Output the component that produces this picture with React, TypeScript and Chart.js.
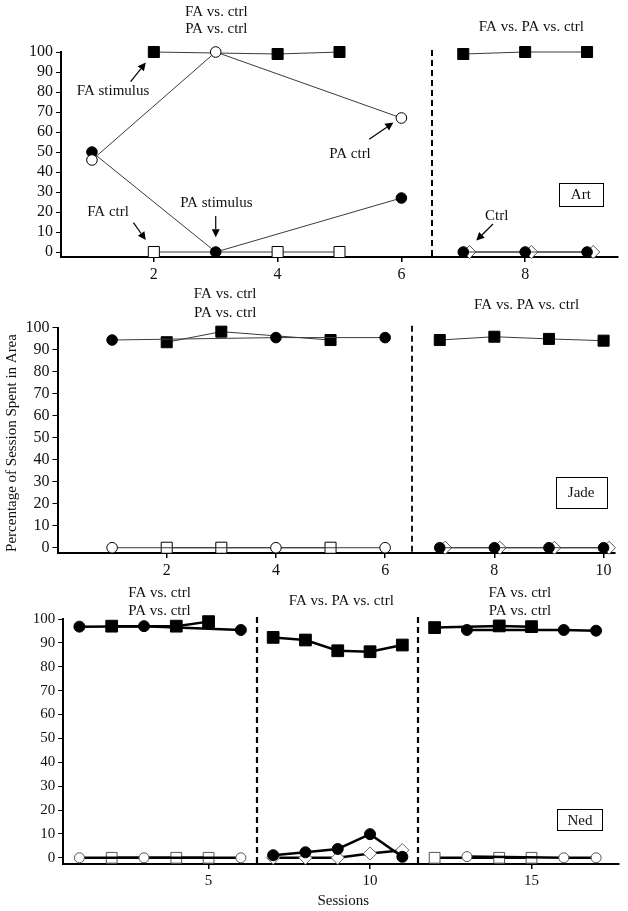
import React, { useEffect, useRef } from 'react';
import { Chart, registerables } from 'chart.js';
Chart.register(...registerables);

const FONT = '"Liberation Serif", "Times New Roman", serif';

// ---------- Art ----------
const artFaSessions = [2, 4, 5];
const artFaStimulus = [100, 99, 100];
const artFaCtrl = [0, 0, 0];
const artPaSessions = [1, 3, 6];
const artPaStimulus = [50, 0, 27];
const artPaCtrl = [46, 100, 67];
const artMixSessions = [7, 8, 9];
const artMixFa = [99, 100, 100];
const artMixPa = [0, 0, 0];
const artMixCtrlSessions = [7.1, 8.1, 9.1];
const artMixCtrl = [0, 0, 0];
const artXTicks = [2, 4, 6, 8];

// ---------- Jade ----------
const jadePaSessions = [1, 4, 6];
const jadePaStimulus = [94.4, 95.5, 95.5];
const jadePaCtrl = [0, 0, 0];
const jadeFaSessions = [2, 3, 5];
const jadeFaStimulus = [93.4, 98.2, 94.4];
const jadeFaCtrl = [0, 0, 0];
const jadeMixSessions = [7, 8, 9, 10];
const jadeMixFa = [94.4, 95.9, 94.9, 94.1];
const jadeMixPa = [0, 0, 0, 0];
const jadeMixCtrlSessions = [7.1, 8.1, 9.1, 10.1];
const jadeMixCtrl = [0, 0, 0, 0];
const jadeXTicks = [2, 4, 6, 8, 10];

// ---------- Ned ----------
const nedPaSessions1 = [1, 3, 6];
const nedPaStimulus1 = [96.8, 97, 95.4];
const nedPaCtrl1 = [0, 0, 0];
const nedFaSessions1 = [2, 4, 5];
const nedFaStimulus1 = [97, 97, 98.9];
const nedFaCtrl1 = [0, 0, 0];
const nedMixSessions = [7, 8, 9, 10, 11];
const nedMixFa = [92.3, 91.2, 86.7, 86.3, 89.1];
const nedMixPa = [1.1, 2.3, 3.7, 9.9, 0.4];
const nedMixCtrl = [0, 0, 0, 1.8, 3.2];
const nedFaSessions3 = [12, 14, 15];
const nedFaStimulus3 = [96.4, 97.1, 96.8];
const nedFaCtrl3 = [0, 0, 0];
const nedPaSessions3 = [13, 16, 17];
const nedPaStimulus3 = [95.4, 95.4, 95.1];
const nedPaCtrl3 = [0.5, 0, 0];
const nedXTicks = [5, 10, 15];

const yTicks = [0, 10, 20, 30, 40, 50, 60, 70, 80, 90, 100];

type Style = {
  shape: 'rect' | 'circle' | 'rectRot';
  filled: boolean;
  r: number;
  lw: number;
  lineColor: string;
  pointBorder?: string;
};

function ds(xs: number[], ys: number[], s: Style) {
  return {
    data: xs.map((x, i) => ({ x, y: ys[i] })),
    borderColor: s.lineColor,
    borderWidth: s.lw,
    pointStyle: s.shape,
    pointRadius: s.r,
    pointBackgroundColor: s.filled ? '#000' : '#fff',
    pointBorderColor: s.pointBorder || '#000',
    pointBorderWidth: 1,
    tension: 0,
    fill: false,
    clip: false as any,
  };
}

type Annot = {
  texts: { t: string; x: number; y: number }[];
  arrows: { x1: number; y1: number; x2: number; y2: number }[];
  boxes: { t: string; x: number; y: number; w: number; h: number }[];
  dashes: number[];
  dashWidth: number;
  vtitle?: { t: string; x: number; y: number };
};

function makePlugin(a: Annot) {
  return {
    id: 'annot',
    beforeDatasetsDraw(chart: any) {
      const ctx = chart.ctx;
      const xs = chart.scales.x;
      const area = chart.chartArea;
      ctx.save();
      ctx.strokeStyle = '#000';
      ctx.lineWidth = a.dashWidth;
      ctx.setLineDash([6, 4]);
      a.dashes.forEach((d) => {
        const px = Math.round(xs.getPixelForValue(d));
        ctx.beginPath();
        ctx.moveTo(px, area.top - 2);
        ctx.lineTo(px, area.bottom);
        ctx.stroke();
      });
      ctx.restore();
    },
    afterDraw(chart: any) {
      const ctx = chart.ctx;
      const xs = chart.scales.x;
      const ys = chart.scales.y;
      const px = (v: number) => xs.getPixelForValue(v);
      const py = (v: number) => ys.getPixelForValue(v);
      ctx.save();
      ctx.font = `15px ${FONT}`;
      ctx.fillStyle = '#111';
      ctx.textAlign = 'center';
      ctx.textBaseline = 'middle';
      a.texts.forEach((t) => ctx.fillText(t.t, px(t.x), py(t.y)));
      a.arrows.forEach((ar) => {
        const x1 = px(ar.x1), y1 = py(ar.y1), x2 = px(ar.x2), y2 = py(ar.y2);
        const ang = Math.atan2(y2 - y1, x2 - x1);
        const L = 8, W = 4;
        const bx = x2 - L * Math.cos(ang), by = y2 - L * Math.sin(ang);
        ctx.strokeStyle = '#000';
        ctx.lineWidth = 1.2;
        ctx.beginPath();
        ctx.moveTo(x1, y1);
        ctx.lineTo(bx, by);
        ctx.stroke();
        ctx.fillStyle = '#000';
        ctx.beginPath();
        ctx.moveTo(x2, y2);
        ctx.lineTo(bx + W * Math.sin(ang), by - W * Math.cos(ang));
        ctx.lineTo(bx - W * Math.sin(ang), by + W * Math.cos(ang));
        ctx.closePath();
        ctx.fill();
      });
      a.boxes.forEach((b) => {
        const cx = px(b.x), cy = py(b.y);
        ctx.fillStyle = '#fff';
        ctx.fillRect(cx - b.w / 2, cy - b.h / 2, b.w, b.h);
        ctx.strokeStyle = '#000';
        ctx.lineWidth = 1;
        ctx.strokeRect(Math.round(cx - b.w / 2) + 0.5, Math.round(cy - b.h / 2) + 0.5, b.w, b.h);
        ctx.fillStyle = '#111';
        ctx.fillText(b.t, cx, cy + 1);
      });
      if (a.vtitle) {
        ctx.save();
        ctx.translate(px(a.vtitle.x), py(a.vtitle.y));
        ctx.rotate(-Math.PI / 2);
        ctx.fillStyle = '#111';
        ctx.fillText(a.vtitle.t, 0, 0);
        ctx.restore();
      }
      ctx.restore();
    },
  };
}

type Panel = {
  top: number;
  height: number;
  area: { left: number; right: number; top: number; bottom: number };
  xmin: number;
  xmax: number;
  ymin: number;
  xTicks: number[];
  tickSize: number;
  datasets: any[];
  annot: Annot;
};

function makeConfig(p: Panel) {
  const tickFont = { family: FONT, size: p.tickSize };
  return {
    type: 'line' as const,
    data: { datasets: p.datasets },
    options: {
      responsive: false,
      animation: false,
      devicePixelRatio: 1,
      layout: { padding: { left: 0, bottom: 0, top: p.area.top, right: 628 - p.area.right } },
      plugins: { legend: { display: false }, tooltip: { enabled: false } },
      scales: {
        x: {
          type: 'linear',
          min: p.xmin,
          max: p.xmax,
          afterFit: (s: any) => { s.height = p.height - p.area.bottom; },
          afterBuildTicks: (s: any) => { s.ticks = p.xTicks.map((v) => ({ value: v })); },
          grid: { drawOnChartArea: false, drawTicks: true, tickLength: 5, color: '#000', lineWidth: 1.5 },
          border: { color: '#000', width: 2 },
          ticks: { font: tickFont, color: '#111', padding: 3, maxRotation: 0, autoSkip: false },
        },
        y: {
          type: 'linear',
          min: p.ymin,
          max: 100,
          afterFit: (s: any) => { s.width = p.area.left; },
          afterBuildTicks: (s: any) => { s.ticks = yTicks.map((v) => ({ value: v })); },
          grid: { drawOnChartArea: false, drawTicks: true, tickLength: 5, color: '#000', lineWidth: 1 },
          border: { color: '#000', width: 2 },
          ticks: { font: tickFont, color: '#111', padding: 3, autoSkip: false },
        },
      },
    },
    plugins: [makePlugin(p.annot)],
  };
}

const thin = '#3a3a3a';
const artSq: Style = { shape: 'rect', filled: true, r: 7.8, lw: 1, lineColor: thin };
const artOSq: Style = { shape: 'rect', filled: false, r: 7.8, lw: 1, lineColor: thin };
const artCi: Style = { shape: 'circle', filled: true, r: 5.3, lw: 1, lineColor: thin };
const artOCi: Style = { shape: 'circle', filled: false, r: 5.3, lw: 1, lineColor: thin };
const artDi: Style = { shape: 'rectRot', filled: false, r: 6.5, lw: 1, lineColor: thin, pointBorder: '#555' };

const nedSq: Style = { shape: 'rect', filled: true, r: 8.3, lw: 2.5, lineColor: '#000' };
const nedOSq: Style = { shape: 'rect', filled: false, r: 7.6, lw: 2.5, lineColor: '#000', pointBorder: '#555' };
const nedCi: Style = { shape: 'circle', filled: true, r: 5.5, lw: 2.5, lineColor: '#000' };
const nedOCi: Style = { shape: 'circle', filled: false, r: 5, lw: 2.5, lineColor: '#000', pointBorder: '#555' };
const nedDi: Style = { shape: 'rectRot', filled: false, r: 6.6, lw: 2.5, lineColor: '#000', pointBorder: '#666' };

const panels: Panel[] = [
  {
    top: 0,
    height: 283,
    area: { left: 61, right: 618, top: 52, bottom: 257 },
    xmin: 0.5,
    xmax: 9.5,
    ymin: -2.5,
    xTicks: artXTicks,
    tickSize: 16,
    datasets: [
      ds(artMixSessions, artMixPa, artCi),
      ds(artMixCtrlSessions, artMixCtrl, artDi),
      ds(artMixSessions, artMixFa, artSq),
      ds(artPaSessions, artPaCtrl, artOCi),
      ds(artPaSessions, artPaStimulus, artCi),
      ds(artFaSessions, artFaStimulus, artSq),
      ds(artFaSessions, artFaCtrl, artOSq),
    ],
    annot: {
      texts: [
        { t: 'FA vs. ctrl', x: 3.01, y: 120.2 },
        { t: 'PA vs. ctrl', x: 3.01, y: 111.4 },
        { t: 'FA vs. PA vs. ctrl', x: 8.1, y: 112.7 },
        { t: 'FA stimulus', x: 1.34, y: 80.7 },
        { t: 'PA stimulus', x: 3.01, y: 24.7 },
        { t: 'FA ctrl', x: 1.26, y: 20 },
        { t: 'PA ctrl', x: 5.17, y: 49 },
        { t: 'Ctrl', x: 7.54, y: 18 },
      ],
      arrows: [
        { x1: 1.625, y1: 85.2, x2: 1.87, y2: 94.7 },
        { x1: 3.0, y1: 18, x2: 3.0, y2: 7.4 },
        { x1: 1.67, y1: 14.7, x2: 1.87, y2: 6 },
        { x1: 5.48, y1: 56.4, x2: 5.87, y2: 64.7 },
        { x1: 7.48, y1: 14, x2: 7.21, y2: 5.7 },
      ],
      boxes: [{ t: 'Art', x: 8.9, y: 28.8, w: 44, h: 23 }],
      dashes: [6.5],
      dashWidth: 2,
    },
  },
  {
    top: 283,
    height: 297,
    area: { left: 57.5, right: 614.5, top: 44.7, bottom: 270 },
    xmin: 0,
    xmax: 10.2,
    ymin: -2.4,
    xTicks: jadeXTicks,
    tickSize: 16,
    datasets: [
      ds(jadeMixSessions, jadeMixPa, artCi),
      ds(jadeMixCtrlSessions, jadeMixCtrl, artDi),
      ds(jadeMixSessions, jadeMixFa, artSq),
      ds(jadePaSessions, jadePaStimulus, artCi),
      ds(jadeFaSessions, jadeFaStimulus, artSq),
      ds(jadePaSessions, jadePaCtrl, artOCi),
      ds(jadeFaSessions, jadeFaCtrl, artOSq),
    ],
    annot: {
      texts: [
        { t: 'FA vs. ctrl', x: 3.07, y: 115.3 },
        { t: 'PA vs. ctrl', x: 3.07, y: 106.8 },
        { t: 'FA vs. PA vs. ctrl', x: 8.59, y: 110.3 },
      ],
      arrows: [],
      boxes: [{ t: 'Jade', x: 9.59, y: 25.2, w: 51, h: 31 }],
      dashes: [6.5],
      dashWidth: 1.8,
      vtitle: { t: 'Percentage of Session Spent in Area', x: -0.83, y: 47.6 },
    },
  },
  {
    top: 580,
    height: 331,
    area: { left: 63.25, right: 622.25, top: 39, bottom: 284 },
    xmin: 0.5,
    xmax: 17.7,
    ymin: -2.6,
    xTicks: nedXTicks,
    tickSize: 15,
    datasets: [
      ds(nedMixSessions, nedMixPa, nedCi),
      ds(nedMixSessions, nedMixCtrl, nedDi),
      ds(nedMixSessions, nedMixFa, nedSq),
      ds(nedPaSessions1, nedPaStimulus1, nedCi),
      ds(nedFaSessions1, nedFaStimulus1, nedSq),
      ds(nedPaSessions1, nedPaCtrl1, nedOCi),
      ds(nedFaSessions1, nedFaCtrl1, nedOSq),
      ds(nedFaSessions3, nedFaStimulus3, nedSq),
      ds(nedPaSessions3, nedPaStimulus3, nedCi),
      ds(nedPaSessions3, nedPaCtrl3, nedOCi),
      ds(nedFaSessions3, nedFaCtrl3, nedOSq),
    ],
    annot: {
      texts: [
        { t: 'FA vs. ctrl', x: 3.48, y: 110.8 },
        { t: 'PA vs. ctrl', x: 3.48, y: 103.5 },
        { t: 'FA vs. PA vs. ctrl', x: 9.11, y: 107.7 },
        { t: 'FA vs. ctrl', x: 14.64, y: 111 },
        { t: 'PA vs. ctrl', x: 14.64, y: 103.5 },
        { t: 'Sessions', x: 9.17, y: -18 },
      ],
      arrows: [],
      boxes: [{ t: 'Ned', x: 16.5, y: 15.9, w: 45, h: 21 }],
      dashes: [6.5, 11.5],
      dashWidth: 2.2,
    },
  },
];

function PanelChart({ p }: { p: Panel }) {
  const ref = useRef<HTMLCanvasElement | null>(null);
  useEffect(() => {
    if (!ref.current) return;
    const chart = new Chart(ref.current, makeConfig(p) as any);
    return () => chart.destroy();
  }, [p]);
  return (
    <canvas
      ref={ref}
      width={628}
      height={p.height}
      style={{ position: 'absolute', left: 0, top: p.top, width: 628, height: p.height }}
    />
  );
}

export default function App() {
  return (
    <div style={{ position: 'fixed', left: 0, top: 0, width: 628, height: 911, background: '#fff' }}>
      {panels.map((p, i) => (
        <PanelChart key={i} p={p} />
      ))}
    </div>
  );
}
